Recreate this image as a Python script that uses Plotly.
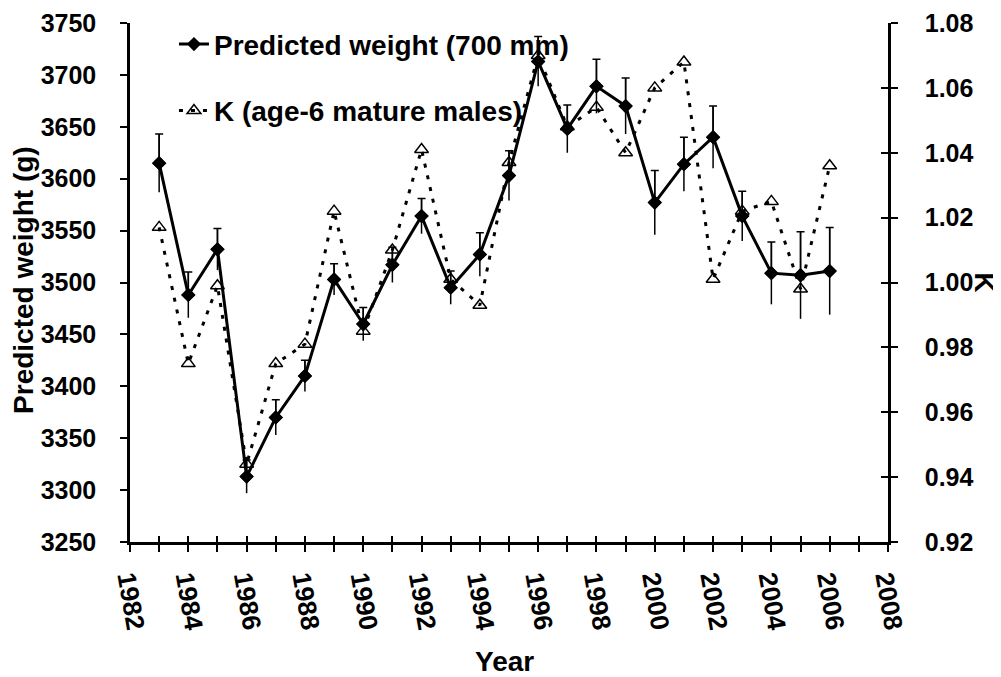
import plotly.graph_objects as go

years = list(range(1983, 2007))
weight = [3615, 3488, 3532, 3313, 3370, 3410, 3503, 3460, 3517, 3564, 3495, 3527,
          3603, 3713, 3648, 3689, 3670, 3577, 3614, 3640, 3564, 3509, 3507, 3511]
weight_err = [28, 22, 20, 16, 17, 15, 15, 16, 17, 17, 16, 21,
              24, 24, 23, 26, 27, 31, 26, 30, 24, 30, 42, 42]
k_values = [1.017, 0.975, 0.999, 0.944, 0.975, 0.981, 1.022, 0.985, 1.010, 1.041, 1.001, 0.993,
            1.037, 1.070, 1.048, 1.054, 1.040, 1.060, 1.068, 1.001, 1.022, 1.025, 0.998, 1.036]

FONT = "Liberation Sans, Arial, sans-serif"
zeros = [0] * len(years)

fig = go.Figure()

fig.add_trace(go.Scatter(
    x=years, y=weight, mode="lines+markers", name="Predicted weight (700 mm)",
    line=dict(color="black", width=3),
    marker=dict(symbol="diamond", size=11, color="black"),
    error_y=dict(type="data", array=weight_err, arrayminus=weight_err, width=0,
                 color="black", thickness=1.5),
    legendgroup="w",
))
fig.add_trace(go.Scatter(
    x=years, y=weight, mode="markers", showlegend=False, hoverinfo="skip",
    marker=dict(symbol="diamond", size=11, color="black"),
    error_y=dict(type="data", array=weight_err, arrayminus=zeros, width=4,
                 color="black", thickness=1.5),
))
fig.add_trace(go.Scatter(
    x=years, y=k_values, mode="lines+markers", name="K (age-6 mature males)",
    yaxis="y2",
    line=dict(color="black", width=3, dash="4px,8px"),
    marker=dict(symbol="triangle-up-open", size=12, color="black",
                line=dict(color="black", width=1.5)),
    legendgroup="k",
))

def tf(size):
    return dict(family=FONT, size=size, color="black", weight="bold")

axis_common = dict(showgrid=False, zeroline=False, showline=True, linecolor="black",
                   linewidth=2.5, ticks="outside", tickcolor="black", tickwidth=2,
                   automargin=False, ticklabeloverflow="allow")

fig.update_layout(
    width=1001, height=677,
    margin=dict(l=122, r=121, t=14, b=143),
    plot_bgcolor="white", paper_bgcolor="white",
    font=dict(family=FONT, color="black"),
    xaxis=dict(range=[1982, 2008], dtick=2, tick0=1982, tickangle=80, ticklen=7,
               tickformat="d", ticklabelstandoff=2, tickfont=tf(26),
               minor=dict(dtick=1, ticks="outside", ticklen=7, tickcolor="black", tickwidth=2),
               **axis_common),
    xaxis2=dict(range=[1982, 2008], overlaying="x", anchor="y", side="bottom",
                showgrid=False, zeroline=False, showline=False, showticklabels=False,
                automargin=False,
                dtick=2, tick0=1982, ticks="inside", ticklen=6, tickwidth=2, tickcolor="black",
                minor=dict(dtick=1, ticks="inside", ticklen=6, tickcolor="black", tickwidth=2)),
    yaxis=dict(range=[3250, 3750], dtick=50, ticklen=7, ticklabelstandoff=19,
               tickfont=tf(25), **axis_common),
    yaxis2=dict(range=[0.92, 1.08], dtick=0.02, tickformat=".2f", overlaying="y", side="right",
                anchor="x", ticklen=7, ticklabelstandoff=22, tickfont=tf(25), **axis_common),
    yaxis3=dict(range=[0.92, 1.08], dtick=0.02, overlaying="y", side="right", anchor="x",
                showgrid=False, zeroline=False, showline=False, showticklabels=False,
                automargin=False,
                ticks="inside", ticklen=7, tickwidth=2, tickcolor="black"),
    legend=dict(x=0.058, y=1.005, xanchor="left", yanchor="top", bgcolor="rgba(0,0,0,0)",
                font=tf(28), traceorder="grouped", tracegroupgap=27),
    showlegend=True,
)

fig.add_trace(go.Scatter(x=[None], y=[None], xaxis="x2", yaxis="y", showlegend=False,
                         hoverinfo="skip"))
fig.add_trace(go.Scatter(x=[None], y=[None], xaxis="x", yaxis="y3", showlegend=False,
                         hoverinfo="skip"))

fig.add_annotation(text="K", xref="paper", yref="paper", x=1.127, y=0.5,
                   xanchor="center", yanchor="middle",
                   textangle=90, showarrow=False, font=tf(28))
fig.add_annotation(text="Predicted weight (g)", xref="paper", yref="paper", x=-0.1398, y=0.505,
                   xanchor="center", yanchor="middle",
                   textangle=-90, showarrow=False, font=tf(28))
fig.add_annotation(text="Year", xref="paper", yref="paper", x=0.4947, y=-0.2308,
                   xanchor="center", yanchor="middle",
                   showarrow=False, font=tf(28))

fig.write_html("out.html")
